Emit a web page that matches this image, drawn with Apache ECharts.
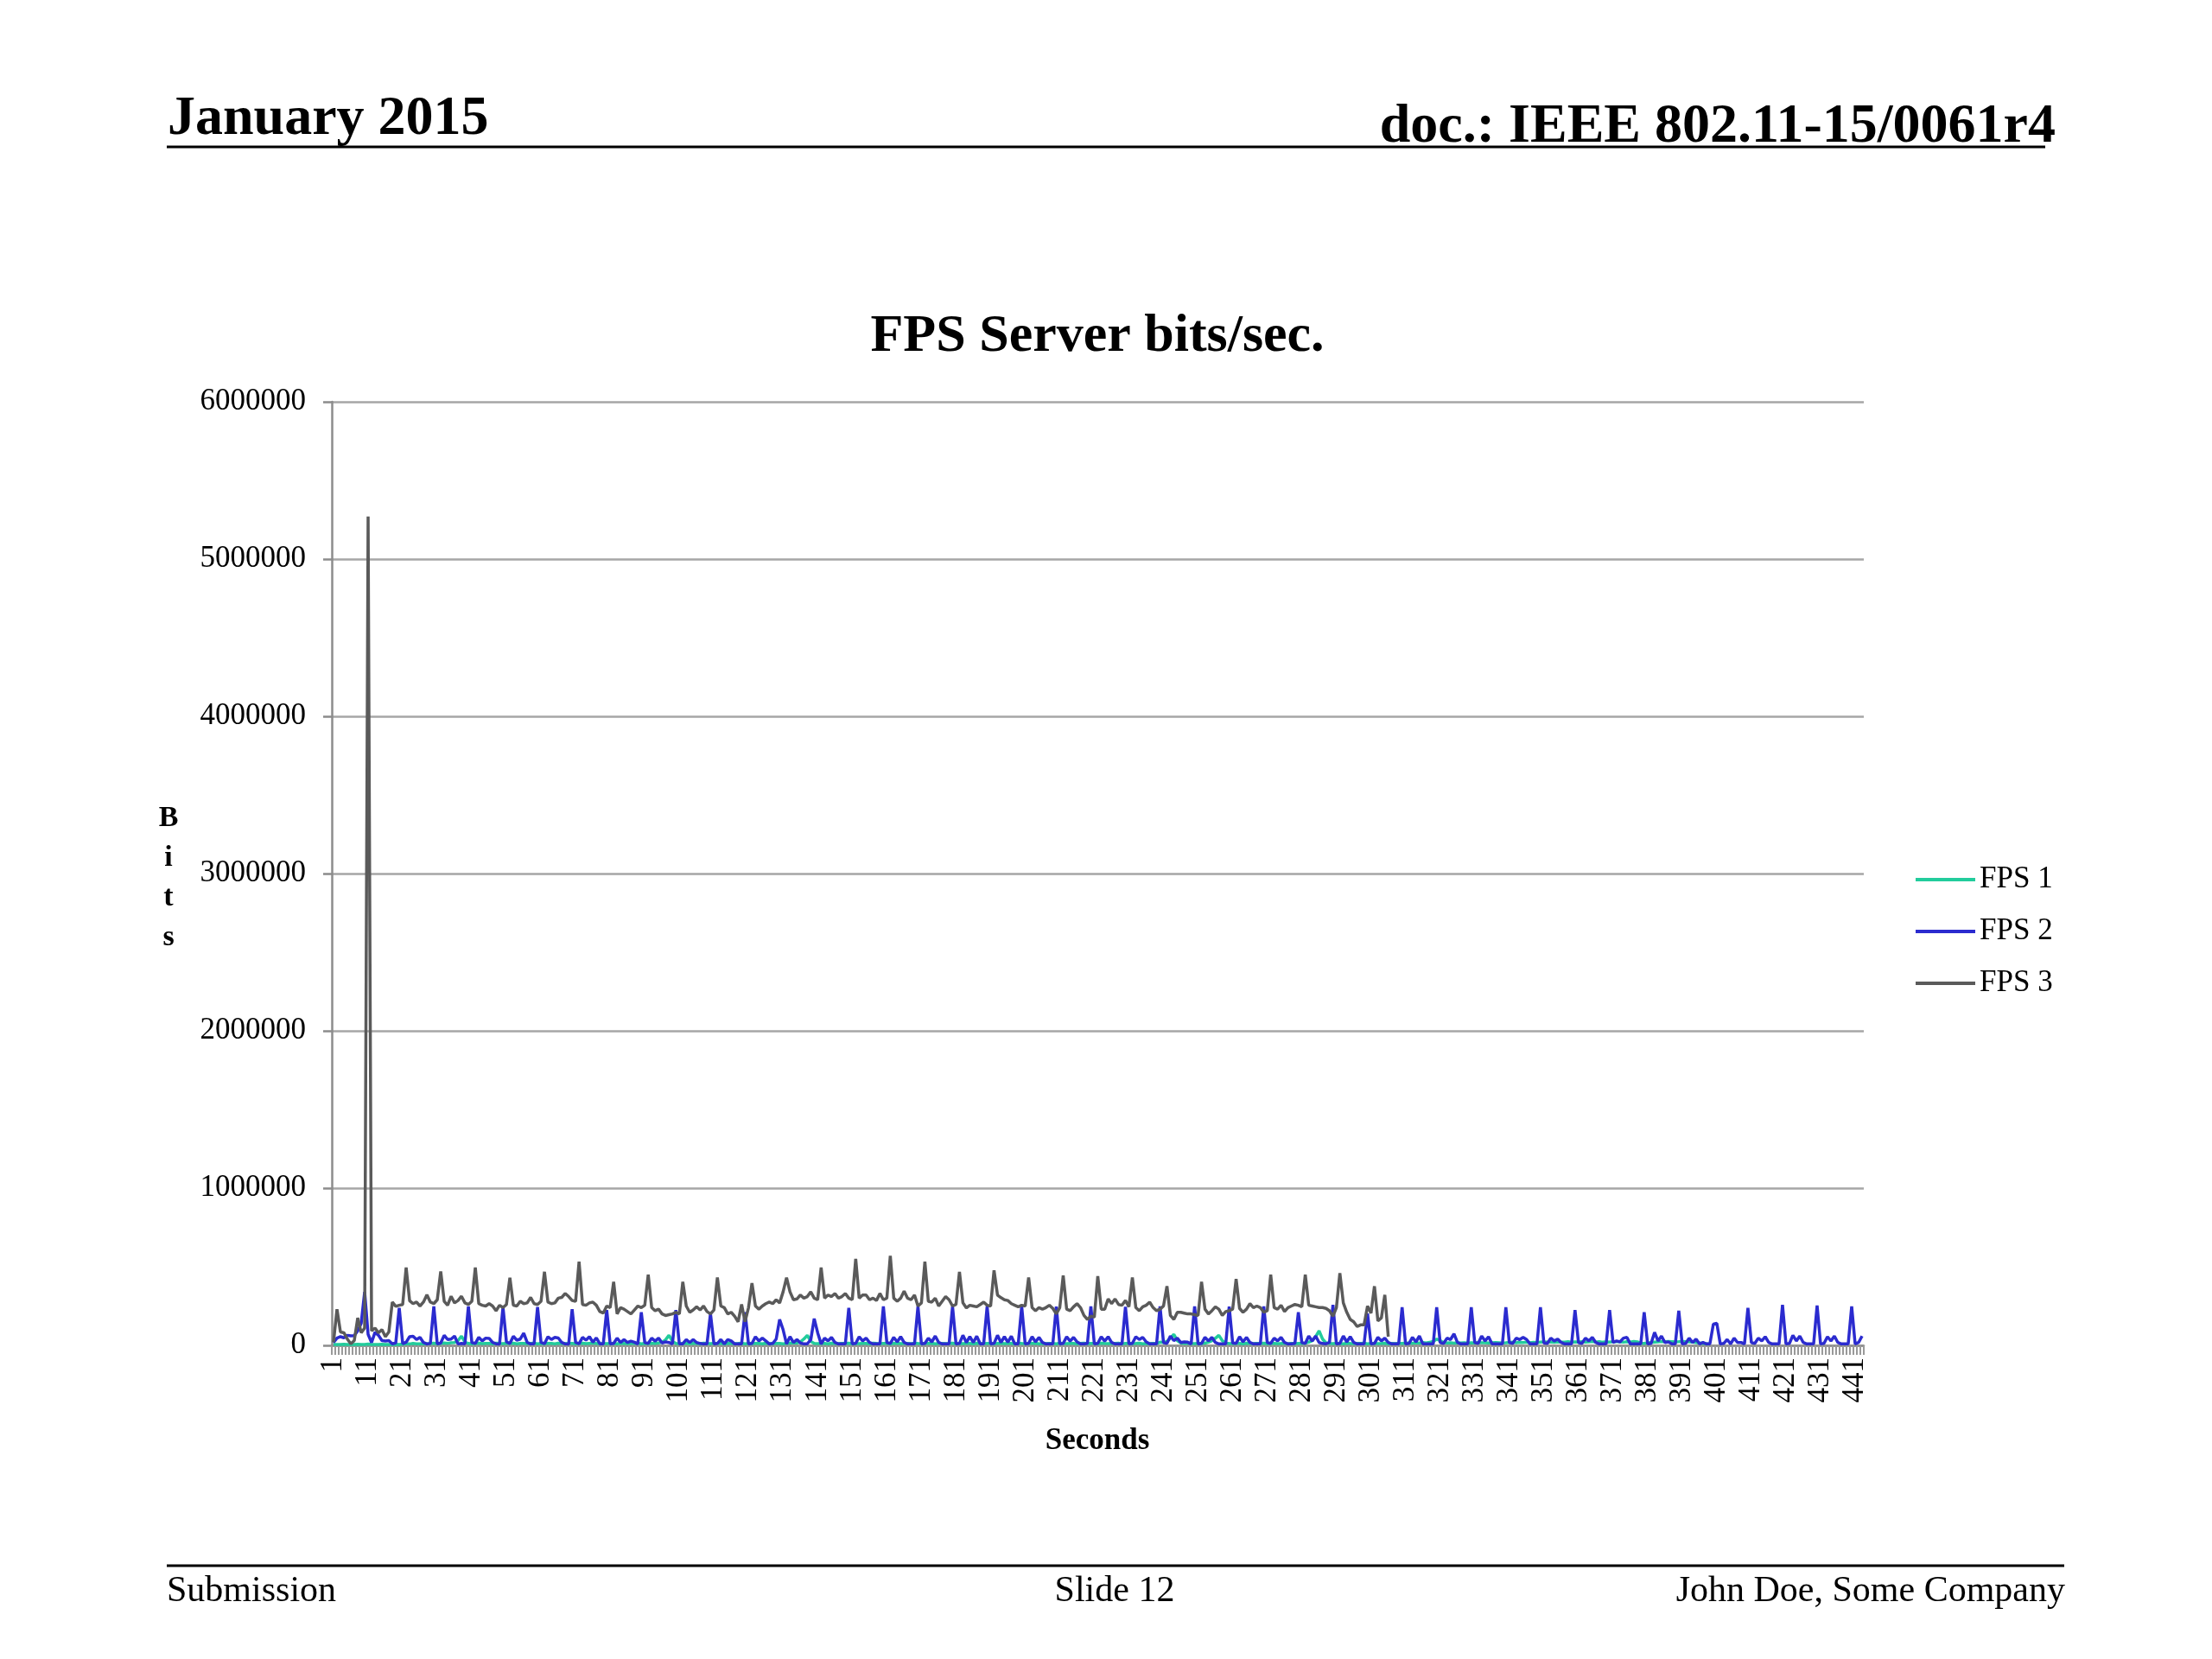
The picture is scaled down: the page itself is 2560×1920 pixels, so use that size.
<!DOCTYPE html>
<html>
<head>
<meta charset="utf-8">
<title>FPS Server bits/sec.</title>
<script src="https://cdn.jsdelivr.net/npm/echarts@6/dist/echarts.min.js"></script>
<style>
    html, body { margin: 0; padding: 0; background: #fff; }
    #main { width: 2560px; height: 1920px; }
</style>
</head>
<body>
<div id="main"></div>
<script>
// seconds 1..443
var seconds = [];
for (var s = 1; s <= 443; s++) { seconds.push(String(s)); }

var yTicks = [0, 1000000, 2000000, 3000000, 4000000, 5000000, 6000000];

var fps1 = [
    5000,6000,5000,7000,6000,5000,6000,7000,5000,6000,8000,6000,5000,6000,7000,6000,5000,6000,7000,6000,
    8000,10000,9000,12000,10000,9000,11000,10000,12000,14000,10000,12000,15000,13000,16000,18000,30000,59000,20000,12000,
    10000,12000,14000,11000,13000,12000,10000,14000,12000,11000,13000,12000,14000,10000,12000,13000,11000,12000,14000,10000,
    12000,11000,13000,12000,10000,14000,12000,11000,13000,12000,10000,12000,14000,11000,13000,15000,12000,10000,12000,11000,
    13000,12000,10000,14000,12000,11000,13000,12000,14000,10000,12000,11000,13000,12000,15000,20000,35000,64000,25000,12000,
    10000,12000,14000,11000,13000,12000,10000,14000,12000,11000,13000,12000,14000,10000,12000,13000,11000,12000,14000,10000,
    12000,11000,13000,12000,10000,14000,12000,11000,13000,12000,10000,12000,14000,16000,15000,22000,40000,64000,25000,12000,
    11000,13000,12000,10000,14000,12000,11000,13000,12000,14000,10000,12000,11000,13000,12000,10000,14000,12000,11000,13000,
    12000,10000,12000,14000,11000,13000,12000,10000,14000,12000,11000,13000,12000,14000,10000,12000,13000,11000,12000,14000,
    10000,12000,11000,13000,12000,10000,14000,12000,11000,13000,12000,10000,12000,14000,11000,13000,12000,10000,14000,12000,
    11000,13000,12000,14000,10000,12000,11000,13000,12000,10000,14000,12000,11000,13000,12000,10000,12000,14000,11000,13000,
    12000,10000,14000,12000,11000,13000,12000,14000,10000,12000,13000,11000,12000,14000,10000,12000,11000,13000,12000,20000,
    18000,25000,45000,70000,30000,15000,12000,14000,12000,11000,13000,12000,14000,20000,30000,45000,64000,30000,14000,12000,
    11000,13000,12000,10000,14000,12000,11000,13000,12000,14000,10000,12000,13000,11000,12000,14000,10000,12000,11000,13000,
    12000,14000,20000,30000,55000,92000,40000,15000,12000,11000,13000,12000,10000,14000,12000,11000,13000,12000,14000,10000,
    12000,13000,11000,12000,14000,10000,12000,11000,13000,12000,14000,15000,13000,16000,14000,18000,15000,20000,25000,40000,
    30000,18000,15000,17000,14000,16000,15000,17000,14000,16000,15000,18000,16000,17000,15000,16000,18000,17000,15000,16000,
    18000,20000,17000,19000,18000,20000,17000,19000,18000,20000,22000,20000,21000,19000,22000,20000,21000,23000,20000,22000,
    21000,23000,20000,22000,25000,21000,23000,20000,22000,21000,23000,24000,22000,20000,23000,21000,25000,22000,14000,12000,
    15000,18000,20000,22000,24000,23000,25000,24000,22000,23000,25000,24000,22000,20000,18000,15000,12000,10000,8000
];

var fps2 = [
    18000,46000,55000,48000,64000,60000,62000,92000,140000,340000,70000,18000,83000,64000,30000,28000,30000,10000,15000,
    238000,10000,20000,55000,58000,37000,51000,18000,9000,12000,
    248000,9000,15000,64000,37000,40000,59000,9000,12000,10000,
    248000,18000,12000,51000,28000,46000,44000,18000,10000,8000,
    243000,22000,12000,58000,33000,40000,77000,18000,9000,10000,
    243000,18000,10000,55000,37000,51000,47000,18000,9000,8000,
    230000,18000,10000,51000,33000,55000,20000,48000,10000,9000,
    224000,9000,12000,46000,18000,37000,18000,27000,20000,9000,
    210000,18000,12000,46000,27000,46000,15000,22000,18000,9000,
    224000,9000,10000,37000,18000,37000,18000,12000,9000,10000,
    202000,9000,12000,37000,9000,37000,28000,9000,10000,9000,
    211000,9000,12000,55000,28000,46000,28000,9000,12000,40000,
    165000,100000,9000,55000,18000,37000,15000,9000,10000,35000,
    170000,80000,9000,46000,28000,51000,18000,9000,10000,9000,
    238000,9000,12000,55000,28000,46000,18000,9000,10000,9000,
    248000,18000,12000,51000,22000,55000,18000,9000,10000,9000,
    248000,9000,12000,46000,22000,59000,18000,9000,10000,9000,
    248000,9000,12000,64000,18000,55000,18000,58000,10000,9000,
    248000,10000,12000,64000,18000,55000,20000,58000,9000,10000,
    248000,9000,12000,55000,22000,51000,18000,9000,10000,9000,
    246000,9000,12000,55000,27000,51000,22000,9000,10000,12000,
    248000,9000,12000,55000,27000,55000,18000,9000,10000,9000,
    245000,9000,12000,55000,37000,51000,22000,9000,10000,9000,
    248000,18000,12000,59000,30000,46000,18000,22000,20000,9000,
    248000,9000,12000,51000,28000,51000,18000,9000,10000,9000,
    246000,15000,12000,55000,22000,51000,18000,9000,10000,9000,
    248000,18000,12000,46000,28000,51000,18000,9000,10000,12000,
    211000,18000,12000,59000,27000,59000,18000,12000,10000,18000,
    257000,9000,12000,59000,22000,55000,18000,9000,10000,9000,
    202000,9000,12000,51000,28000,46000,18000,9000,10000,9000,
    242000,9000,12000,51000,22000,59000,9000,9000,10000,9000,
    242000,18000,12000,46000,37000,73000,18000,9000,10000,9000,
    242000,18000,12000,59000,28000,55000,9000,9000,10000,9000,
    242000,18000,12000,46000,37000,51000,37000,9000,10000,9000,
    242000,15000,12000,46000,28000,40000,18000,9000,10000,9000,
    224000,18000,12000,46000,28000,51000,18000,9000,10000,9000,
    224000,18000,28000,22000,46000,51000,9000,9000,10000,9000,
    211000,9000,12000,83000,28000,59000,18000,22000,10000,9000,
    220000,9000,12000,46000,18000,40000,9000,18000,9000,10000,
    135000,140000,9000,12000,37000,9000,46000,18000,18000,9000,
    238000,18000,12000,46000,28000,55000,18000,9000,10000,9000,
    257000,9000,12000,64000,28000,59000,18000,9000,10000,9000,
    253000,9000,12000,55000,28000,59000,18000,9000,10000,9000,
    248000,9000,18000,59000
];

var fps3 = [
    20000,230000,85000,80000,40000,10000,30000,175000,80000,110000,
    5270000,92000,110000,80000,100000,55000,85000,275000,248000,255000,
    260000,495000,284000,265000,275000,250000,275000,321000,275000,265000,
    290000,470000,280000,255000,312000,270000,285000,312000,270000,260000,
    280000,495000,265000,255000,250000,265000,250000,220000,255000,240000,
    260000,430000,255000,250000,280000,265000,270000,305000,265000,260000,
    280000,468000,275000,265000,270000,300000,305000,330000,310000,285000,
    280000,532000,260000,255000,270000,275000,255000,215000,205000,250000,
    240000,404000,200000,240000,230000,215000,200000,225000,250000,240000,
    255000,450000,240000,220000,230000,200000,190000,195000,200000,210000,
    200000,404000,250000,210000,225000,245000,225000,250000,215000,200000,
    225000,431000,250000,240000,200000,210000,185000,150000,260000,150000,
    240000,395000,250000,230000,250000,265000,275000,265000,290000,270000,
    340000,431000,340000,290000,295000,320000,300000,310000,340000,300000,
    290000,495000,300000,320000,310000,330000,300000,310000,330000,300000,
    290000,550000,300000,320000,320000,290000,300000,285000,330000,290000,
    300000,569000,300000,280000,300000,345000,300000,290000,320000,250000,
    270000,532000,280000,275000,300000,250000,280000,310000,290000,250000,
    260000,468000,270000,238000,255000,250000,245000,260000,275000,255000,
    250000,477000,320000,303000,290000,285000,265000,255000,245000,255000,
    250000,431000,240000,220000,240000,230000,240000,255000,235000,200000,
    240000,444000,230000,220000,245000,265000,240000,190000,165000,185000,
    180000,440000,230000,230000,295000,265000,295000,260000,255000,285000,
    245000,431000,240000,220000,245000,255000,275000,240000,220000,230000,
    250000,376000,190000,165000,210000,210000,205000,200000,200000,195000,
    190000,404000,230000,200000,220000,245000,230000,190000,215000,220000,
    230000,422000,235000,210000,230000,265000,240000,250000,240000,210000,
    220000,450000,240000,230000,255000,215000,240000,250000,260000,255000,
    245000,450000,255000,250000,245000,240000,240000,235000,220000,185000,
    240000,459000,270000,210000,165000,150000,120000,130000,130000,250000,
    205000,376000,155000,175000,321000,55000
];

var serif = '"Liberation Serif", "DejaVu Serif", serif';

var myChart = echarts.init(document.getElementById('main'));
var option = {
    backgroundColor: '#ffffff',
    animation: false,
    color: ['#22cc9c', '#2b2bcf', '#5a5a5a'],
    grid: {
        left: 384,
        right: 403,
        top: 465,
        bottom: 363,
        containLabel: false
    },
    legend: {
        orient: 'vertical',
        left: 2212,
        top: 993,
        itemWidth: 69,
        itemHeight: 4,
        itemGap: 20,
        icon: 'rect',
        data: [
            { name: 'FPS 1', itemStyle: { color: '#22cc9c' } },
            { name: 'FPS 2', itemStyle: { color: '#2b2bcf' } },
            { name: 'FPS 3', itemStyle: { color: '#5a5a5a' } }
        ],
        textStyle: {
            fontFamily: serif,
            fontSize: 35,
            color: '#000',
            lineHeight: 40,
            padding: [0, 0, 0, 0]
        }
    },
    xAxis: {
        type: 'category',
        data: seconds,
        boundaryGap: true,
        axisLine: { show: true, lineStyle: { color: '#8c8c8c', width: 2.5 } },
        axisTick: {
            show: true,
            interval: 0,
            length: 11,
            lineStyle: { color: '#9a9a9a', width: 2 }
        },
        axisLabel: {
            interval: 9,
            rotate: 90,
            margin: 14,
            fontFamily: serif,
            fontSize: 35,
            color: '#000'
        },
        splitLine: { show: false }
    },
    yAxis: {
        type: 'value',
        min: yTicks[0],
        max: yTicks[yTicks.length - 1],
        interval: 1000000,
        axisLine: { show: true, lineStyle: { color: '#8c8c8c', width: 2.5 } },
        axisTick: { show: true, length: 10, lineStyle: { color: '#8c8c8c', width: 2.5 } },
        axisLabel: {
            margin: 30,
            fontFamily: serif,
            fontSize: 35,
            color: '#000',
            formatter: function (v) { return String(v); }
        },
        splitLine: { show: true, lineStyle: { color: '#a6a6a6', width: 2.5 } }
    },
    series: [
        {
            name: 'FPS 1',
            type: 'line',
            data: fps1,
            symbol: 'none',
            lineStyle: { width: 3.5, color: '#22cc9c' }
        },
        {
            name: 'FPS 2',
            type: 'line',
            data: fps2,
            symbol: 'none',
            lineStyle: { width: 3.5, color: '#2b2bcf' }
        },
        {
            name: 'FPS 3',
            type: 'line',
            data: fps3,
            symbol: 'none',
            lineStyle: { width: 3.5, color: '#5a5a5a' }
        }
    ],
    graphic: [
        // slide header
        { type: 'text', left: 194, top: 106, style: { text: 'January 2015', font: 'bold 64px ' + serif, fill: '#000' } },
        { type: 'text', right: 181, top: 115, style: { text: 'doc.: IEEE 802.11-15/0061r4', font: 'bold 64px ' + serif, fill: '#000' } },
        { type: 'line', shape: { x1: 193, y1: 170, x2: 2367, y2: 170 }, style: { stroke: '#000', lineWidth: 3 } },
        // chart title and axis names
        { type: 'text', style: { x: 1270, y: 390, text: 'FPS Server bits/sec.', font: 'bold 62px ' + serif, fill: '#000', textAlign: 'center', textVerticalAlign: 'middle' } },
        { type: 'text', style: { x: 1270, y: 1668, text: 'Seconds', font: 'bold 35px ' + serif, fill: '#000', textAlign: 'center', textVerticalAlign: 'middle' } },
        { type: 'text', style: { x: 195, y: 1016, text: 'B\ni\nt\ns', font: 'bold 34px ' + serif, lineHeight: 46, fill: '#000', textAlign: 'center', textVerticalAlign: 'middle' } },
        // slide footer
        { type: 'line', shape: { x1: 193, y1: 1812, x2: 2389, y2: 1812 }, style: { stroke: '#000', lineWidth: 3 } },
        { type: 'text', style: { x: 193, y: 1842, text: 'Submission', font: '42px ' + serif, fill: '#000', textAlign: 'left', textVerticalAlign: 'middle' } },
        { type: 'text', style: { x: 1290, y: 1842, text: 'Slide 12', font: '42px ' + serif, fill: '#000', textAlign: 'center', textVerticalAlign: 'middle' } },
        { type: 'text', style: { x: 2390, y: 1842, text: 'John Doe, Some Company', font: '42px ' + serif, fill: '#000', textAlign: 'right', textVerticalAlign: 'middle' } }
    ]
};
myChart.setOption(option);
</script>
</body>
</html>
